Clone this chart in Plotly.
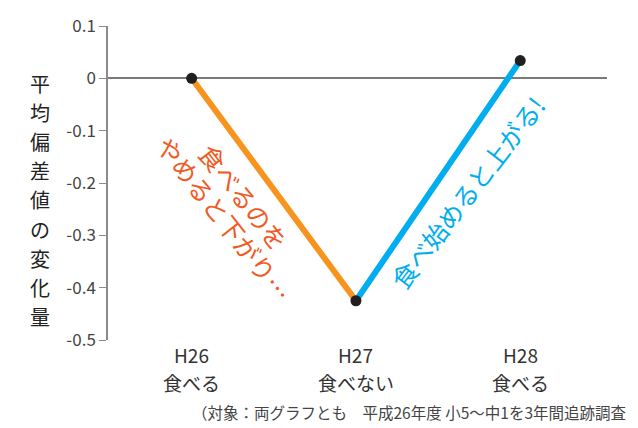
import plotly.graph_objects as go

categories = ["H26", "H27", "H28"]
category_sub = ["食べる", "食べない", "食べる"]
values = [0.0, -0.425, 0.034]
y_ticks = [0.1, 0, -0.1, -0.2, -0.3, -0.4, -0.5]
y_title = "平均偏差値の変化量"
note = "（対象：両グラフとも　平成26年度 小5〜中1を3年間追跡調査"
label_down = ["食べるのを", "やめると下がり…"]
label_up = "食べ始めると上がる!"

FONT = "Noto Sans CJK JP"
xs = list(range(len(categories)))
TOP = 19

fig = go.Figure()
fig.add_trace(go.Scatter(x=xs[0:2], y=values[0:2], mode="lines",
                         line=dict(color="#F7941D", width=6), hoverinfo="skip"))
fig.add_trace(go.Scatter(x=xs[1:3], y=values[1:3], mode="lines",
                         line=dict(color="#00AEEF", width=6), hoverinfo="skip"))
fig.add_trace(go.Scatter(x=xs, y=values, mode="markers",
                         marker=dict(color="#231F20", size=11), hoverinfo="skip"))

fig.update_layout(
    width=638, height=428,
    margin=dict(l=108, r=31, t=TOP, b=88),
    paper_bgcolor="white", plot_bgcolor="white",
    showlegend=False,
    font=dict(family=FONT, color="#333333"),
    xaxis=dict(range=[-0.509, 2.528], tickvals=xs, showticklabels=False,
               showgrid=False, zeroline=False, showline=False, ticks="",
               fixedrange=True),
    yaxis=dict(range=[-0.5, 0.1], tickmode="array", tickvals=y_ticks,
               ticktext=[("%g" % v) for v in y_ticks],
               showgrid=False, zeroline=True, zerolinecolor="#7a7a7a", zerolinewidth=1.5,
               showline=True, linecolor="#8a8a8a", linewidth=1.5,
               ticks="outside", ticklen=7, tickcolor="#8a8a8a",
               tickfont=dict(size=17, color="#444444"), fixedrange=True),
)

# category labels (two lines)
for x, top, sub in zip(xs, categories, category_sub):
    fig.add_annotation(x=x, xref="x", yref="paper", y=0, yanchor="middle",
                       yshift=-14, text=top, showarrow=False,
                       font=dict(size=19, color="#333333", family=FONT))
    fig.add_annotation(x=x, xref="x", yref="paper", y=0, yanchor="middle",
                       yshift=-42, text=sub, showarrow=False,
                       font=dict(size=19, color="#333333", family=FONT))

# vertical y-axis title, one character per row
for i, ch in enumerate(y_title):
    fig.add_annotation(xref="paper", yref="paper", x=0, y=1, xanchor="center",
                       yanchor="middle", xshift=-68, yshift=-(76.5 - TOP) - i * 29.1,
                       text=ch, showarrow=False,
                       font=dict(size=20, color="#222222", family=FONT))

# rotated comments
fig.add_annotation(x=0.323, y=-0.226, text=label_down[0], showarrow=False,
                   textangle=52, font=dict(size=25, color="#F15A24", family=FONT))
fig.add_annotation(x=0.205, y=-0.268, text=label_down[1], showarrow=False,
                   textangle=52, font=dict(size=25, color="#F15A24", family=FONT))
fig.add_annotation(x=1.678, y=-0.218, text=label_up, showarrow=False,
                   textangle=-52.5, font=dict(size=25, color="#00AEEF", family=FONT))

# footnote
fig.add_annotation(xref="paper", yref="paper", x=1, y=0, xanchor="right",
                   yanchor="middle", xshift=21, yshift=-72,
                   text=note, showarrow=False,
                   font=dict(size=15.5, color="#444444", family=FONT))

fig.write_html("out.html")
